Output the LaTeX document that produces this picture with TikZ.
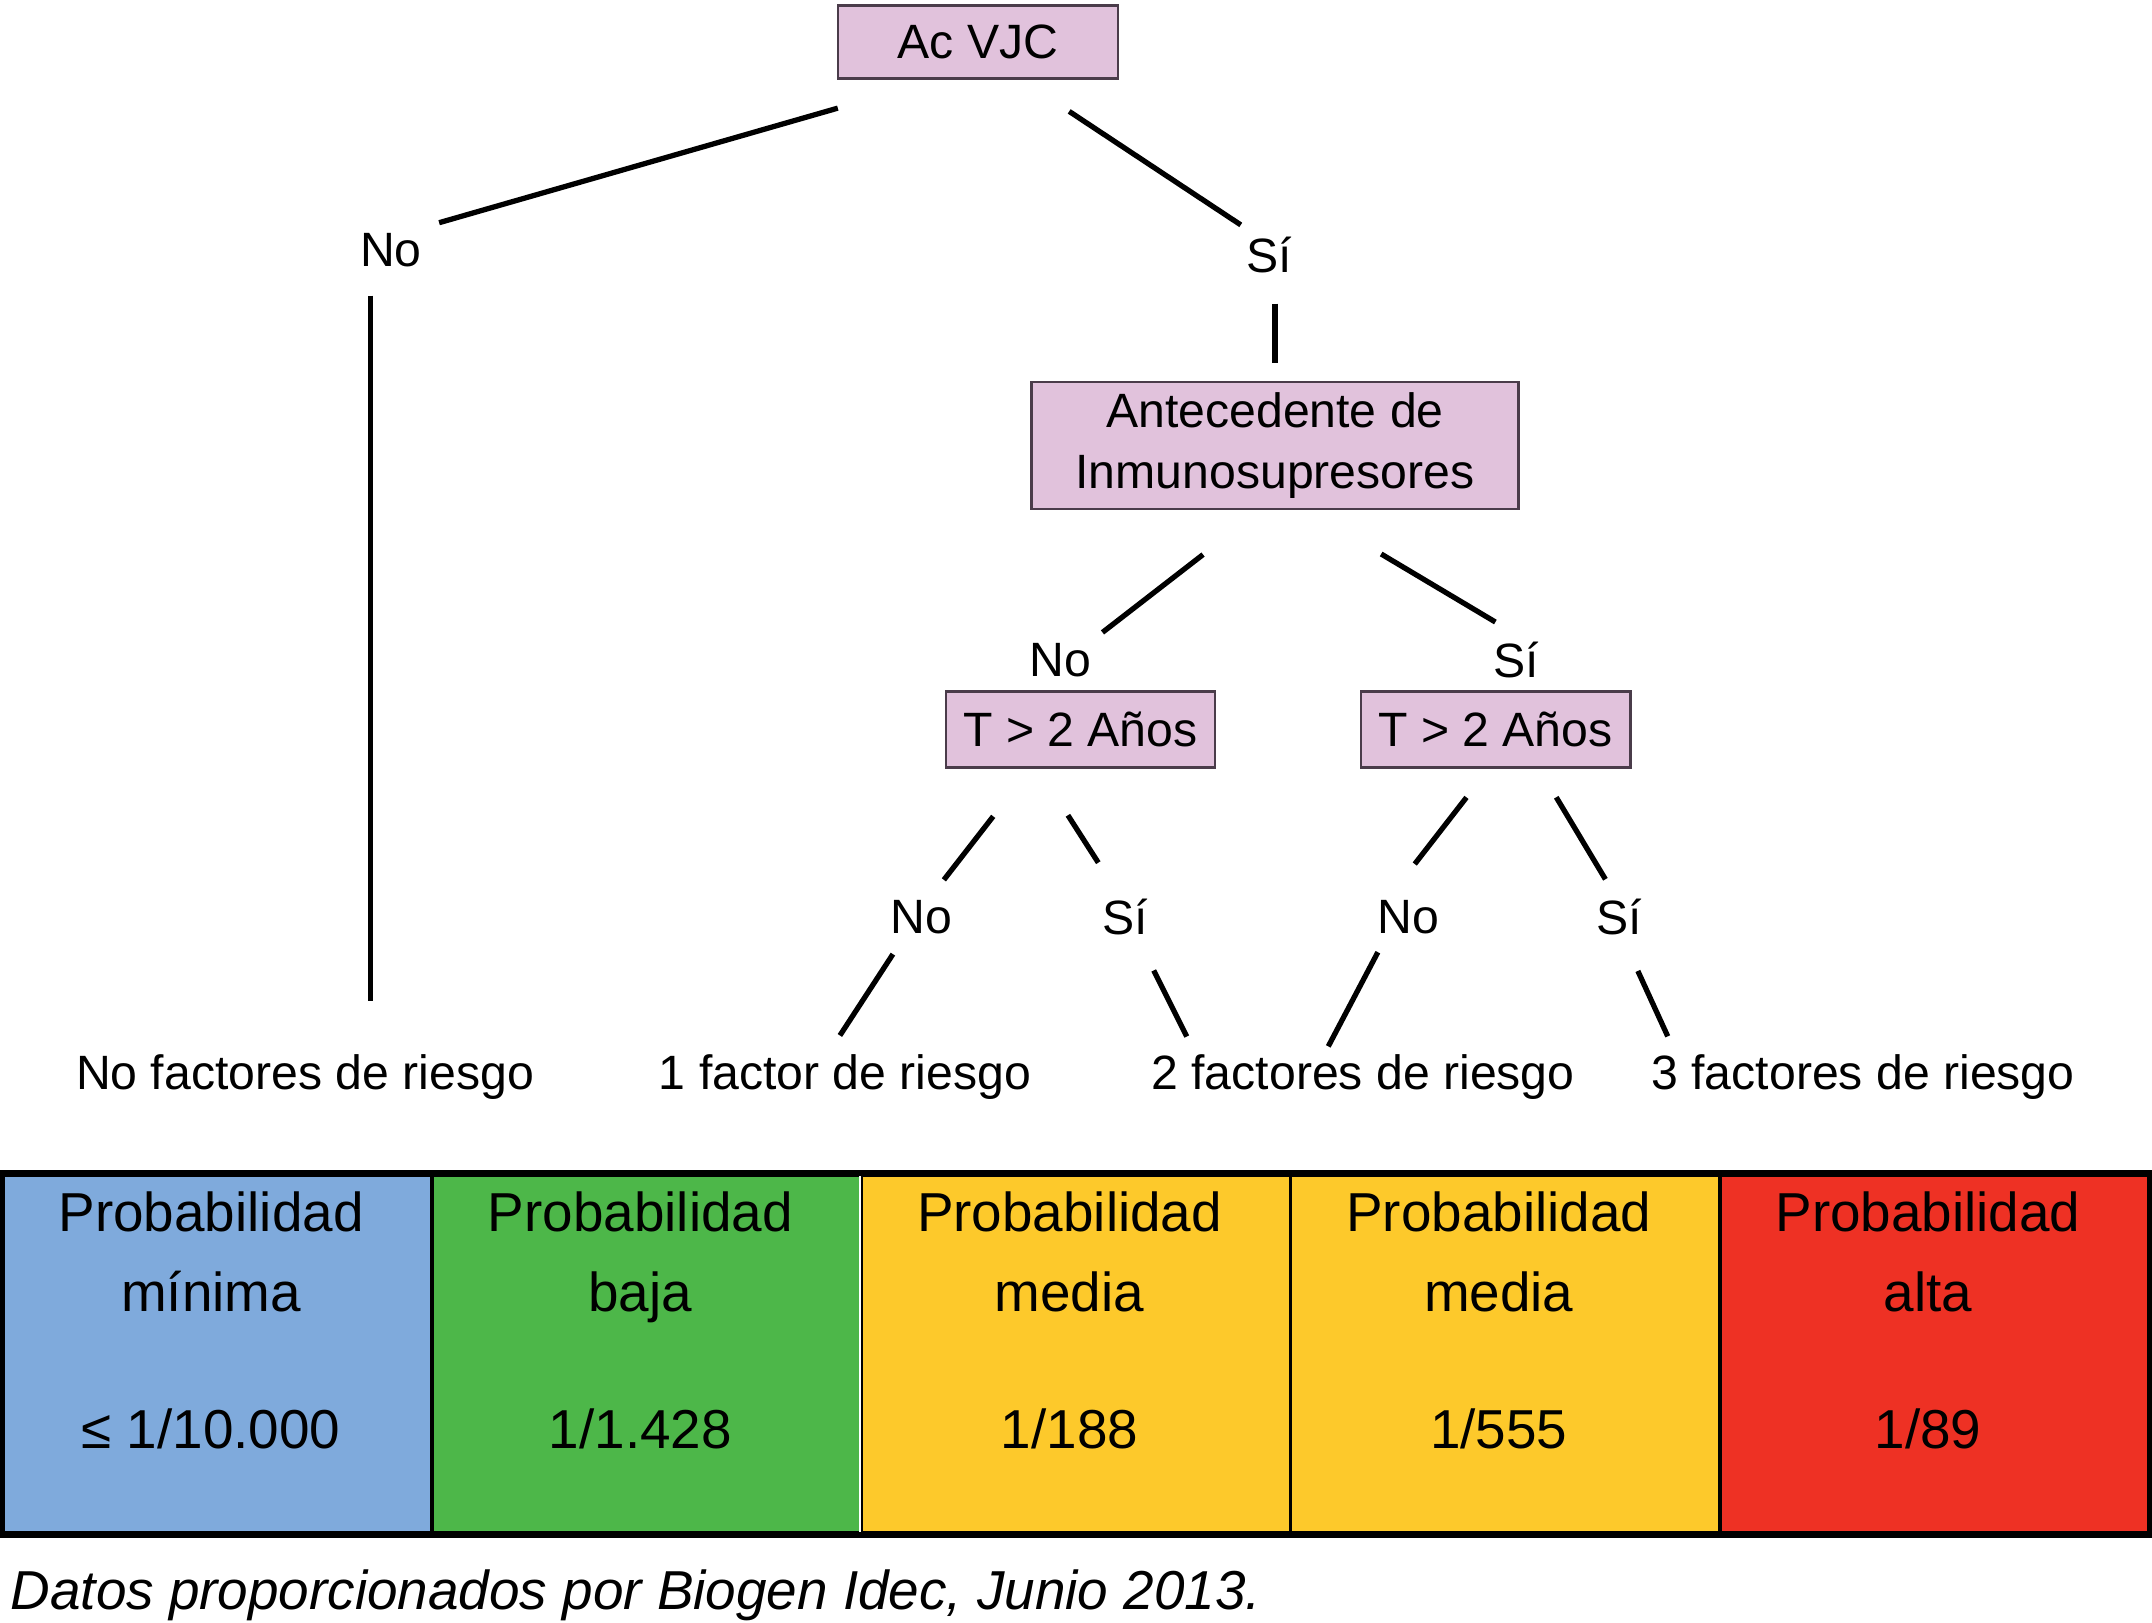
\documentclass[tikz,border=0pt]{standalone}
\usepackage{fontspec}
\setmainfont{Liberation Sans}
\newcommand\treefont{\fontsize{13.7}{17.4}\selectfont}
\newcommand\tabfont{\fontsize{15.6}{22.8}\selectfont}
\definecolor{boxfill}{HTML}{E1C2DC}
\definecolor{boxline}{HTML}{4A3C4A}
\definecolor{pblue}{HTML}{7FAADC}
\definecolor{pgreen}{HTML}{4DB749}
\definecolor{pyellow}{HTML}{FDC92B}
\definecolor{pred}{HTML}{EE3124}
\tikzset{
  box/.style={draw=boxline, fill=boxfill, line width=0.8pt, inner sep=0pt, align=center, font=\treefont},
  lbl/.style={inner sep=2pt, font=\treefont},
  seg/.style={line width=1.5pt},
  cell/.style={draw, line width=1.1pt, inner sep=0pt, minimum width=4.292cm, minimum height=3.58cm},
  tabtxt/.style={inner sep=0pt, align=center, font=\tabfont}
}
\begin{document}
\begin{tikzpicture}
    \def\x{0.01}
    \def\y{-0.01}
    \useasboundingbox (0,0) rectangle (2152*\x, 1622*\y);
    \node[box, minimum width=2.8cm, minimum height=0.73cm] (A0_0) at (978*\x, 42*\y) {Ac VJC};
    \node[lbl] (A1_0) at (391*\x, 250*\y) {No};
    \node[lbl] (A1_1) at (1269*\x, 255*\y) {Sí};
    \node[box, minimum width=4.86cm, minimum height=1.27cm] (A2_1) at (1275*\x, 445.5*\y) {Antecedente de\\Inmunosupresores};
    \node[lbl] (A3_1) at (1060*\x, 660*\y) {No};
    \node[lbl] (A3_2) at (1516*\x, 660*\y) {Sí};
    \node[box, minimum width=2.69cm, minimum height=0.76cm] (A4_1) at (1080.5*\x, 729.5*\y) {T > 2 Años};
    \node[box, minimum width=2.69cm, minimum height=0.76cm] (A4_2) at (1495.5*\x, 729.5*\y) {T > 2 Años};
    \node[lbl] (A5_0) at (921*\x, 917*\y) {No};
    \node[lbl] (A5_1) at (1125*\x, 917*\y) {Sí};
    \node[lbl] (A5_2) at (1408*\x, 917*\y) {No};
    \node[lbl] (A5_3) at (1619*\x, 917*\y) {Sí};
    \node[lbl, anchor=base] (A6_0) at (305*\x, 1089*\y) {No factores de riesgo};
    \node[lbl, anchor=base] (A6_1) at (845*\x, 1089*\y) {1 factor de riesgo};
    \node[lbl, anchor=base] (A6_2) at (1363*\x, 1089*\y) {2 factores de riesgo};
    \node[lbl, anchor=base] (A6_3) at (1863*\x, 1089*\y) {3 factores de riesgo};
    % branches
    \path (A0_0.222) edge [seg, shorten <=1.02cm, shorten >=0.10cm] (A1_0.north east);
    \path (A0_0.319) edge [seg, shorten <=0.57cm, shorten >=0.08cm] (A1_1.130);
    \path (A1_1.south -| A2_1.north) edge [seg, shorten <=0.23cm, shorten >=0.18cm] (A2_1.north);
    \path (A1_0.230) edge [seg, shorten <=0.21cm, shorten >=0.45cm] (A1_0.230 |- A6_0.north);
    \path (A2_1.257) edge [seg, shorten <=0.72cm, shorten >=0.05cm] (A3_1.north east);
    \path (A2_1.297) edge [seg, shorten <=0.85cm, shorten >=0.24cm] (A3_2.north);
    \path (A4_1.218) edge [seg, shorten <=0.60cm, shorten >=0.16cm] (A5_0.62);
    \path (A4_1.223) edge [seg, shorten <=0.55cm, shorten >=0.34cm] (A5_1.108);
    \path (A4_2.260) edge [seg, shorten <=0.36cm, shorten >=0.36cm] (A5_2.122);
    \path (A4_2.318) edge [seg, shorten <=0.33cm, shorten >=0.14cm] (A5_3.104);
    \path (A5_0.231) edge [seg, shorten <=0.15cm, shorten >=0.13cm] (A6_1.112);
    \path (A5_1.300) edge [seg, shorten <=0.31cm, shorten >=0.11cm] (A6_2.170);
    \path (A5_2.225) edge [seg, shorten <=0.12cm] (A6_2.139);
    \path (A5_3.283) edge [seg, shorten <=0.31cm, shorten >=0.11cm] (A6_3.171);
    % risk table
    \foreach \c/\col/\lvl/\val in {0/pblue/mínima/{≤ 1/10.000}, 1/pgreen/baja/{1/1.428},
        2/pyellow/media/{1/188}, 3/pyellow/media/{1/555}, 4/pred/alta/{1/89}} {
      \node[cell, fill=\col] (A7_\c) at ({(217.6+429.2*\c)*\x}, 1354*\y) {};
      \node[tabtxt, anchor=north] (A8_\c) at ([xshift=-0.065cm, yshift=-0.18cm]A7_\c.north) {Probabilidad\\\lvl\\[16.2pt]\val};
    }
    \draw[white, line width=0.8pt] ([xshift=-0.034cm]A7_1.north east) -- ([xshift=-0.034cm]A7_1.south east);
    \draw[line width=1.5pt] (A7_0.north west) rectangle (A7_4.south east);
    \node[anchor=base west, inner sep=0pt, font=\tabfont\itshape] (A9_0) at (10*\x, 1609*\y) {Datos proporcionados por Biogen Idec, Junio 2013.};
\end{tikzpicture}
\end{document}
